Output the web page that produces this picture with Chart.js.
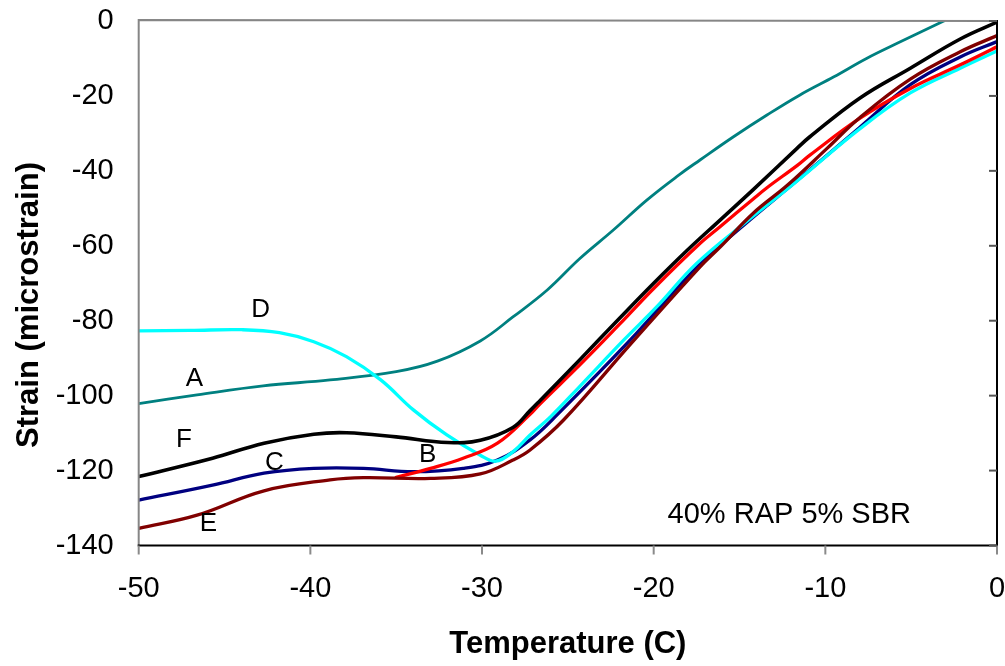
<!DOCTYPE html>
<html>
<head>
<meta charset="utf-8">
<script src="https://cdn.jsdelivr.net/npm/chart.js@4"></script>
<style>
  html, body { margin: 0; padding: 0; background: #ffffff; }
  #wrap { width: 1005px; height: 666px; }
</style>
</head>
<body>
<div id="wrap"><canvas id="chart" width="1005" height="666"></canvas></div>
<script>
// Temperature (C) / strain (microstrain) readings for each specimen
const tempA   = [-50, -46.6, -42.75, -38.85, -35, -32.6, -30.1, -28.2, -26.2, -24.3, -22.35, -20.4, -18.5, -17.3, -15.35, -13.4, -11.5, -9.5, -7.6, -5.6, -3.1];
const strainA = [-102.1, -99.8, -97.4, -95.8, -93.6, -90.8, -85.4, -79.0, -71.8, -63.4, -55.8, -47.8, -41.0, -37.1, -30.9, -25.1, -19.8, -14.9, -10.0, -5.5, 0];

const tempB   = [-35, -33, -31.1, -29.1, -27.2, -26.6, -24.3, -22, -20, -17.4, -16.1, -14.2, -13.4, -11.65, -10.9, -8, -5.05, -2.14, 0];
const strainB = [-121.8, -119.4, -116.7, -112.7, -105.0, -102.1, -91.8, -81.0, -71.4, -59.8, -54.8, -47.5, -44.5, -38.6, -35.8, -26.0, -18.0, -11.7, -6.9];

const tempC   = [-50, -45.7, -42.7, -39.8, -36.9, -34, -31.1, -29.1, -27.2, -25.6, -21.5, -17.4, -14.5, -11.8, -8, -5.05, -2.14, 0];
const strainC = [-127.9, -123.9, -120.7, -119.4, -119.4, -120.3, -119.4, -117.2, -111.8, -105.0, -85.8, -65.3, -53.5, -43.2, -28.4, -17.0, -9.6, -5.5];

const tempD   = [-50, -47, -44, -41.8, -39.8, -37.9, -35.9, -34, -32.05, -30.1, -29.2, -28.2, -27.2, -26, -24.3, -21.75, -19.8, -17.5, -14.5, -11.8, -8, -5.05, -2.14, 0];
const strainD = [-82.7, -82.6, -82.4, -83.2, -85.6, -89.6, -95.8, -103.8, -110.5, -115.9, -117.5, -115.0, -110.5, -105.6, -97.5, -85.2, -76.2, -64.7, -53.2, -43.3, -28.8, -19.2, -12.6, -8.0];

const tempE   = [-50, -46.6, -42.7, -38.85, -36.9, -33, -30.1, -28.2, -27.2, -25.25, -21.4, -17.3, -16.1, -14.2, -12.2, -9.9, -8, -5.05, -2.14, 0];
const strainE = [-135.4, -131.9, -125.4, -122.5, -121.9, -122.1, -120.9, -117.2, -114.5, -106.5, -86.5, -65.6, -60.2, -51.3, -43.8, -34.0, -25.8, -15.5, -8.2, -3.9];

const tempF   = [-50, -45.7, -42.7, -39.8, -37.9, -35, -32, -30.1, -28.2, -27.2, -26.6, -24.3, -22, -20, -18, -16.1, -14.2, -11.65, -10.9, -8, -5.05, -2.14, 0];
const strainF = [-121.6, -116.7, -112.7, -110.3, -109.9, -111.0, -112.5, -111.9, -108.5, -104.0, -101.2, -90.4, -79.4, -70.0, -61.0, -53.0, -45.0, -34.0, -30.9, -20.6, -12.6, -4.8, -0.3];

// Curve labels placed in data coordinates
const labelText = ['D', 'A', 'F', 'C', 'B', 'E'];
const labelTemp = [-42.9, -46.76, -47.36, -42.1, -33.16, -45.94];
const labelStrain = [-77.0, -95.6, -111.7, -117.9, -115.7, -134.3];

const noteText = '40% RAP 5% SBR';
const noteTemp = -12.1;
const noteStrain = -131.9;

const xTitle = 'Temperature (C)';
const yTitle = 'Strain (microstrain)';

const xTicks = { min: -50, max: 0, step: 10 };
const yTicks = { min: -140, max: 0, step: 20 };

const FONT = "'Liberation Sans', Arial, sans-serif";

function pts(xs, ys) { return xs.map((x, i) => ({ x: x, y: ys[i] })); }

function series(data, color, width) {
  return {
    data: data,
    showLine: true,
    borderColor: color,
    backgroundColor: color,
    borderWidth: width,
    pointRadius: 0,
    pointHoverRadius: 0,
    fill: false,
    tension: 0.4,
    borderJoinStyle: 'round',
    borderCapStyle: 'round'
  };
}

// Frame, tick marks, curve labels and axis titles
const decorations = {
  id: 'decorations',
  afterDatasetsDraw(chart) {
    const ctx = chart.ctx;
    const xs = chart.scales.x, ys = chart.scales.y;
    const { left, right, top, bottom } = chart.chartArea;
    ctx.save();
    ctx.lineWidth = 2;
    ctx.lineCap = 'butt';
    // left and top edges in grey
    ctx.strokeStyle = '#868686';
    ctx.beginPath();
    ctx.moveTo(left, bottom); ctx.lineTo(left, top - 1); ctx.lineTo(right, top);
    ctx.stroke();
    // right and bottom edges in black
    ctx.strokeStyle = '#000000';
    ctx.beginPath();
    ctx.moveTo(right, top - 1); ctx.lineTo(right, bottom); ctx.lineTo(left - 1, bottom);
    ctx.stroke();
    // outward tick marks on the temperature axis
    ctx.strokeStyle = '#8a8a8a';
    xs.ticks.forEach(t => {
      const px = xs.getPixelForValue(t.value);
      ctx.beginPath(); ctx.moveTo(px, bottom); ctx.lineTo(px, bottom + 9); ctx.stroke();
    });
    // inward tick marks on the right edge
    ctx.strokeStyle = '#555555';
    ys.ticks.forEach(t => {
      const py = ys.getPixelForValue(t.value);
      ctx.beginPath(); ctx.moveTo(right, py); ctx.lineTo(right - 8, py); ctx.stroke();
    });
    ctx.restore();
  },
  afterDraw(chart) {
    const ctx = chart.ctx;
    const xs = chart.scales.x, ys = chart.scales.y;
    const { left, right } = chart.chartArea;
    ctx.save();
    ctx.fillStyle = '#000000';
    ctx.textAlign = 'center';
    ctx.textBaseline = 'middle';
    ctx.font = '26px ' + FONT;
    labelText.forEach((t, i) => {
      ctx.fillText(t, xs.getPixelForValue(labelTemp[i]), ys.getPixelForValue(labelStrain[i]));
    });
    ctx.font = '29px ' + FONT;
    ctx.fillText(noteText, xs.getPixelForValue(noteTemp), ys.getPixelForValue(noteStrain));

    ctx.font = 'bold 31px ' + FONT;
    ctx.textBaseline = 'alphabetic';
    ctx.fillText(xTitle, (left + right) / 2, 653);
    ctx.translate(38, 305);
    ctx.rotate(-Math.PI / 2);
    ctx.fillText(yTitle, 0, 0);
    ctx.restore();
  }
};

new Chart(document.getElementById('chart'), {
  type: 'scatter',
  data: {
    datasets: [
      series(pts(tempF, strainF), '#000000', 3.6),
      series(pts(tempE, strainE), '#800000', 3.3),
      series(pts(tempB, strainB), '#ff0000', 3.3),
      series(pts(tempD, strainD), '#00ffff', 3.3),
      series(pts(tempC, strainC), '#000080', 3.3),
      series(pts(tempA, strainA), '#008080', 2.8)
    ]
  },
  options: {
    responsive: false,
    animation: false,
    devicePixelRatio: 1,
    layout: { padding: { top: 21, right: 8, left: 0, bottom: 0 } },
    plugins: { legend: { display: false }, tooltip: { enabled: false } },
    scales: {
      x: {
        type: 'linear',
        min: xTicks.min, max: xTicks.max,
        ticks: {
          stepSize: xTicks.step, color: '#000000', padding: 26,
          maxRotation: 0, font: { family: FONT, size: 29 }
        },
        grid: { display: false, drawTicks: false },
        border: { display: false },
        afterFit(scale) {
          scale.height = 120.5;
          scale.paddingLeft = 0; scale.paddingRight = 0;
        }
      },
      y: {
        type: 'linear',
        min: yTicks.min, max: yTicks.max,
        ticks: {
          stepSize: yTicks.step, color: '#000000', padding: 25,
          font: { family: FONT, size: 29 }
        },
        grid: { display: false, drawTicks: false },
        border: { display: false },
        afterFit(scale) {
          scale.width = 138.7;
          scale.paddingTop = 0; scale.paddingBottom = 0;
        }
      }
    }
  },
  plugins: [decorations]
});
</script>
</body>
</html>
